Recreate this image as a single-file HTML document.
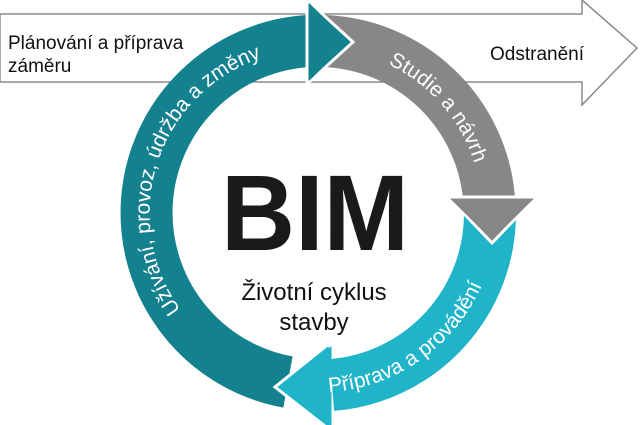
<!DOCTYPE html>
<html><head><meta charset="utf-8"><style>
html,body{margin:0;padding:0;background:#fff;}
svg{display:block;}
text{font-family:"Liberation Sans",sans-serif;}
</style></head><body>
<svg width="640" height="425" viewBox="0 0 640 425" xmlns="http://www.w3.org/2000/svg">
<defs>
<path id="pTeal" d="M 207 338 A 164 164 0 0 1 299 50" fill="none"/>
<path id="pGray" d="M 340 50 A 164 164 0 0 1 482 213" fill="none"/>
<path id="pLight" d="M 302 392 A 180 180 0 0 0 491 260" fill="none"/>
</defs>
<!-- background arrow -->
<polygon points="0,14 582,14 582,0 637,48 582,105 582,82 0,82" fill="#fff" stroke="#8a8a8a" stroke-width="1.5"/>
<text x="8" y="49" font-size="19" fill="#111">Plánování a příprava</text>
<text x="8" y="72" font-size="19" fill="#111">záměru</text>
<text x="490" y="60" font-size="19" fill="#111">Odstranění</text>
<!-- bodies -->
<path d="M 490 213 A 172 172 0 0 1 332 385" fill="none" stroke="#20b4c9" stroke-width="52"/>
<path d="M 324 41 A 172 172 0 0 1 489 198" fill="none" stroke="#878787" stroke-width="52"/>
<path d="M 288 382 A 172 172 0 0 1 309 41" fill="none" stroke="#14818f" stroke-width="52"/>
<!-- heads -->
<polygon points="330,343 330,430 275,387" fill="#20b4c9" stroke="#fff" stroke-width="3"/>
<polygon points="448,197 536,197 492,243" fill="#878787" stroke="#fff" stroke-width="3"/>
<polygon points="307,0 307,84 353,42" fill="#14818f" stroke="#fff" stroke-width="3"/>
<polygon points="309,3 309,81 349,42" fill="#14818f"/>
<polygon points="450,198.5 534,198.5 492,240" fill="#878787"/>
<polygon points="331.5,346 331.5,428 278,387" fill="#20b4c9"/>
<!-- curved labels -->
<text font-size="21" fill="#fff"><textPath href="#pTeal" startOffset="50%" text-anchor="middle">Užívání, provoz, údržba a změny</textPath></text>
<text font-size="21" fill="#fff"><textPath href="#pGray" startOffset="50%" text-anchor="middle">Studie a návrh</textPath></text>
<text font-size="21" fill="#fff"><textPath href="#pLight" startOffset="50%" text-anchor="middle">Příprava a provádění</textPath></text>
<!-- center -->
<text x="315" y="250" font-size="108" font-weight="bold" fill="#1a1a1a" text-anchor="middle" textLength="188" lengthAdjust="spacingAndGlyphs">BIM</text>
<text x="314" y="300" font-size="24" fill="#111" text-anchor="middle">Životní cyklus</text>
<text x="314" y="330" font-size="24" fill="#111" text-anchor="middle">stavby</text>
</svg>
</body></html>
